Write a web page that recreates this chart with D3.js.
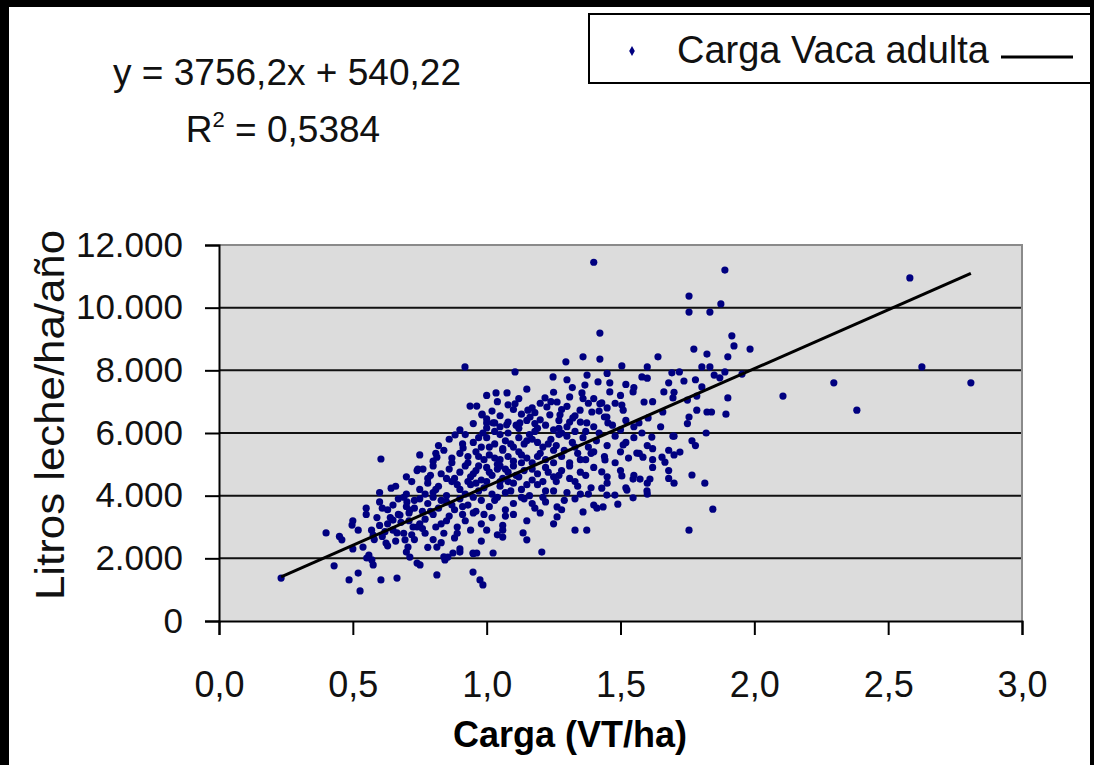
<!DOCTYPE html>
<html>
<head>
<meta charset="utf-8">
<script src="https://cdn.jsdelivr.net/npm/d3@7"></script>
<style>
  body { margin: 0; background: #fff; }
  svg { display: block; font-family: "Liberation Sans", Arial, sans-serif; }
</style>
</head>
<body>
<div id="chart"></div>
<script>
(function () {

  // Data: [carga VT/ha, litros leche/ha/año]
  const puntos = [
    [1.40,11450],[1.423,9190],[1.36,8430],[1.423,8360],[1.296,8270],[0.919,8110],[1.106,7950],[1.375,7850],
    [1.248,7790],[1.416,7630],[1.367,7530],[1.46,7600],[1.46,7310],[1.035,7280],[1.076,7280],[1.356,7280],
    [1.218,7120],[1.31,7150],[1.263,6990],[0.938,6860],[0.963,6860],[1.106,6930],[1.423,6930],[1.154,6730],
    [0.983,6600],[1.225,6830],[1.349,6730],[1.393,6670],[1.2,6420],[1.236,6580],[1.274,6580],[1.322,6480],
    [1.44,6510],[1.0,6320],[1.03,6320],[1.075,6260],[1.124,6320],[1.374,6320],
    [1.89,11200],[1.756,10370],[1.756,9860],[1.834,9860],[1.875,10120],[2.581,10950],[1.916,9100],[1.924,8780],
    [1.984,8680],[1.774,8680],[1.823,8520],[1.901,8430],[1.64,8430],[1.505,8140],[1.6,8110],[1.804,8110],
    [1.834,8110],[1.692,7920],[1.89,7950],[1.954,7880],[1.871,7760],[1.58,7790],[1.737,7660],[2.626,8110],
    [2.297,7600],[2.809,7600],[2.107,7180],[2.383,6730],[1.547,7310],[1.662,7310],[1.804,7470],[1.696,7120],
    [1.785,7180],[1.901,7120],[1.588,6990],[1.505,6890],[1.43,6960],[1.658,6670],[1.785,6730],[1.823,6670],
    [1.84,6670],[1.756,6510],[1.894,6600],[1.449,6510],[1.51,6730],[1.603,6480],[1.569,6320],[1.453,6320],
    [1.767,5750],[1.617,5870],[1.696,5900],[1.51,5620],[1.561,5360],[1.584,5230],[1.655,5230],[1.666,5070],
    [1.722,5390],[1.442,5140],[1.43,4760],[1.505,4630],[1.547,4530],[1.573,4530],[1.61,4530],[1.767,4660],
    [1.815,4400],[1.43,4240],[1.449,4020],[1.479,4020],[1.524,4180],[1.547,3930],[1.599,4150],[1.49,3730],
    [1.845,3570],[1.756,2900],[1.435,3640],
    [0.232,1370],[0.4,2810],[0.43,1760],[0.459,2590],[0.497,3060],[0.486,1310],[0.52,1530],[0.527,960],
    [0.605,5170],[0.643,4240],[0.605,1310],[0.665,1370],[0.538,2360],[0.552,2010],[0.571,1950],[0.576,1790],
    [0.576,2740],[0.624,2490],[0.65,3220],[0.665,2810],[0.676,3380],[0.695,2590],[0.706,2360],[0.713,2040],
    [0.74,1850],[0.702,3800],[0.713,3540],[0.751,1790],[0.725,3000],[0.743,4850],[0.762,4850],[0.814,5230],
    [0.814,1470],[0.814,2360],[0.949,1560],[0.975,1310],[0.986,1150],[1.206,2200],[1.33,2900],[1.374,2900],
    [1.36,3480],[1.412,3600],[1.263,3640],[1.263,3320],[1.136,2810],[1.15,2590],[1.06,2900],[1.06,2680],
    [1.0,2900],[0.882,5940],[0.912,5520],[0.986,6000],[1.0,6160],[1.024,6320],[0.982,6580],[1.162,6510],
    [0.844,1950],[0.855,2040],[0.874,2170],[0.9,2200],[0.949,2170],[0.963,2170],[1.024,2170],
    // dense central mass
    [1.02,6700],[1.08,6900],[1.13,6600],[1.17,6800],[1.28,6750],[1.33,6550],[1.38,6950],[1.45,6800],
    [1.05,6550],[1.2,6950],[1.1,6750],
    [0.9,6100],[0.95,6300],[1.0,6450],[1.05,6200],[1.08,6000],[1.12,6150],[1.15,6400],[1.18,6050],
    [1.22,6250],[1.25,6100],[1.27,6400],[1.3,6200],[1.33,6050],[1.35,6350],[1.4,6200],[1.42,6000],
    [1.47,6250],[1.5,6100],[1.52,6400],[1.55,6200],[1.08,6350],[1.18,6300],[1.28,6000],
    [0.82,5600],[0.86,5800],[0.92,5950],[0.95,5700],[0.98,5550],[1.0,5850],[1.03,5650],[1.05,5950],
    [1.07,5750],[1.1,5550],[1.12,5850],[1.14,5650],[1.16,5950],[1.19,5700],[1.21,5550],[1.24,5800],
    [1.26,5600],[1.3,5900],[1.32,5700],[1.36,5850],[1.38,5550],[1.41,5750],[1.45,5600],[1.48,5900],
    [1.52,5700],[1.55,5850],[1.6,5600],[1.06,5500],[1.17,5800],[1.27,5950],
    [0.75,5300],[0.8,5100],[0.84,5450],[0.87,5200],[0.9,5350],[0.93,5050],[0.96,5400],[0.99,5150],
    [1.01,5300],[1.04,5000],[1.06,5450],[1.08,5250],[1.1,5100],[1.12,5400],[1.15,5200],[1.17,5050],
    [1.2,5350],[1.22,5150],[1.25,5450],[1.28,5250],[1.31,5050],[1.34,5350],[1.37,5150],[1.4,5400],
    [1.44,5250],[1.48,5050],[1.5,5400],[1.53,5200],[1.57,5350],[1.62,5150],[1.68,5450],[1.03,5200],
    [1.13,5300],[0.97,5250],
    [0.7,4600],[0.74,4800],[0.78,4550],[0.8,4950],[0.83,4700],[0.86,4850],[0.88,4550],[0.9,4750],
    [0.92,4950],[0.94,4600],[0.96,4800],[0.98,4500],[1.0,4900],[1.02,4650],[1.04,4850],[1.06,4550],
    [1.08,4750],[1.1,4950],[1.12,4600],[1.14,4800],[1.17,4500],[1.19,4700],[1.22,4900],[1.25,4600],
    [1.28,4800],[1.31,4550],[1.35,4750],[1.4,4900],[1.45,4600],[1.5,4800],[1.55,4650],[1.62,4900],
    [1.68,4550],[1.05,4950],[0.95,4700],
    [0.6,4100],[0.66,4300],[0.7,4050],[0.72,4450],[0.75,4200],[0.78,4400],[0.8,4100],[0.82,4300],
    [0.85,4000],[0.87,4450],[0.9,4200],[0.92,4050],[0.94,4350],[0.97,4150],[1.0,4450],[1.02,4050],
    [1.05,4300],[1.07,4100],[1.1,4400],[1.13,4200],[1.16,4000],[1.19,4350],[1.22,4150],[1.26,4450],
    [1.3,4100],[1.34,4300],[1.38,4050],[1.45,4400],[1.52,4250],[1.6,4050],[1.7,4400],[0.96,4400],
    [1.08,4450],
    [0.55,3600],[0.6,3800],[0.63,3550],[0.67,3900],[0.7,3650],[0.73,3850],[0.76,3500],[0.78,3750],
    [0.8,3950],[0.82,3600],[0.85,3800],[0.88,3550],[0.9,3900],[0.93,3700],[0.96,3500],[0.98,3850],
    [1.01,3650],[1.04,3950],[1.07,3550],[1.1,3750],[1.14,3900],[1.18,3600],[1.22,3800],[1.28,3550],
    [1.33,3900],[1.4,3700],
    [0.5,3200],[0.55,3400],[0.6,3050],[0.64,3300],[0.68,3150],[0.71,3450],[0.74,3000],[0.77,3250],
    [0.8,3400],[0.83,3100],[0.86,3350],[0.89,3000],[0.92,3200],[0.95,3450],[0.98,3100],[1.02,3300],
    [1.06,3050],[1.1,3400],[1.15,3200],[1.2,3450],[1.25,3100],
    [0.45,2700],[0.52,2900],[0.58,2600],[0.62,2850],[0.66,2550],[0.72,2750],[0.76,2950],[0.8,2600],
    [0.84,2800],[0.88,2650],[0.94,2900],[0.98,2550],[1.04,2750],
    [0.5,2300],[0.56,2100],[0.63,2400],[0.7,2200],[0.78,2350],[0.84,2050],[0.9,2300],[0.95,2150],
    [1.0,7200],[1.15,7400],[1.25,7300],[1.32,7450],[1.4,7100],[1.5,7200],[1.55,7450],[1.62,7000],
    [1.7,7300],[1.75,7050],
    [1.3,7700],[1.45,7900],[1.52,7550],[1.6,7750],[1.68,7600],[1.72,7950],[1.78,7700],[1.85,7850],
    [1.58,6000],[1.65,6200],[1.7,5900],[1.75,6300],[1.62,5500],[1.7,5300],[1.78,5600],[1.82,6000],
    [1.6,4400],[1.68,4800],
    [0.77,4050],[0.79,4650],[0.81,5350],[0.83,3850],[0.85,4550],[0.87,5050],[0.89,4350],[0.91,5650],
    [0.91,3650],[0.93,4450],[0.93,5250],[0.95,3950],[0.97,4950],[0.97,5850],[0.99,4250],[0.99,3400],
    [1.01,4750],[1.01,5550],[1.03,3850],[1.03,6050],[1.05,4450],[1.05,5150],[1.07,4850],[1.07,3350],
    [1.09,5650],[1.09,4150],[1.11,4650],[1.11,6250],[1.13,3950],[1.13,5050],[1.15,4350],[1.15,5750],
    [1.17,4850],[1.17,3750],[1.19,5250],[1.19,6150],[1.21,4450],[1.21,3950],[1.23,5650],[1.23,4750],
    [1.25,5050],[1.25,4150],[1.27,6150],[1.27,4650],[1.29,5450],[1.29,3850],[1.31,4950],[1.31,6350],
    [1.33,4450],[1.33,5550],[1.35,5150],[1.35,4050],[1.37,6050],[1.37,4650],[1.39,5350],[1.39,4250],
    [0.57,2900],[0.59,3300],[0.61,2700],[0.61,3600],[0.63,3100],[0.65,2900],[0.65,3700],[0.67,3400],
    [0.69,2800],[0.69,3950],[0.71,3200],[0.73,2600],[0.73,3600],[0.75,3100],[0.75,3900],[0.77,2800],
    [0.79,3500],[0.81,3000],[0.81,4200],[0.83,2500],[0.85,3200],[0.87,3700],[0.89,2800],[0.91,3400],
    [1.04,7000],[1.12,7100],[1.18,6650],[1.24,7000],[1.3,6850],[1.36,7100],[1.42,6700],[1.48,6950]
  ]

  // Linear trend shown in the chart
  const pendiente = 3756.2
  const intercepto = 540.22

  const xTicks = [0, 0.5, 1, 1.5, 2, 2.5, 3]
  const yTicks = [0, 2000, 4000, 6000, 8000, 10000, 12000]
  const gridValues = [2000, 4000, 6000, 8000, 10000]

  const W = 1094, H = 765
  const plot = { left: 219, top: 245, right: 1022, bottom: 621 }

  const es = d3.formatLocale({ decimal: ",", thousands: ".", grouping: [3], currency: ["", ""] })

  const svg = d3.select("#chart").append("svg")
    .attr("width", W)
    .attr("height", H)

  svg.append("rect").attr("width", W).attr("height", H).attr("fill", "#fff")

  // Equation text
  svg.append("text")
    .attr("x", 287).attr("y", 85)
    .attr("text-anchor", "middle")
    .attr("font-size", 37)
    .attr("textLength", 348)
    .attr("lengthAdjust", "spacingAndGlyphs")
    .attr("fill", "#111")
    .text("y = 3756,2x + 540,22")

  const r2 = svg.append("text")
    .attr("x", 283).attr("y", 142)
    .attr("text-anchor", "middle")
    .attr("font-size", 37)
    .attr("fill", "#111")
  r2.append("tspan").text("R")
  r2.append("tspan").attr("font-size", 22).attr("dy", -15).text("2")
  r2.append("tspan").attr("dy", 15).text(" = 0,5384")

  // Legend
  svg.append("rect")
    .attr("x", 589).attr("y", 14)
    .attr("width", 520).attr("height", 69)
    .attr("fill", "#fff")
    .attr("stroke", "#000")
    .attr("stroke-width", 2)
  svg.append("path")
    .attr("d", d3.symbol(d3.symbolDiamond, 28)())
    .attr("transform", "translate(632,51)")
    .attr("fill", "#000080")
  svg.append("text")
    .attr("x", 677).attr("y", 63)
    .attr("font-size", 38)
    .attr("fill", "#111")
    .text("Carga Vaca adulta")
  svg.append("line")
    .attr("x1", 1001).attr("x2", 1073)
    .attr("y1", 57).attr("y2", 57)
    .attr("stroke", "#000")
    .attr("stroke-width", 3)

  // Scales
  const x = d3.scaleLinear().domain([0, 3]).range([plot.left, plot.right])
  const y = d3.scaleLinear().domain([0, 12000]).range([plot.bottom, plot.top])

  // Plot area
  svg.append("rect")
    .attr("x", plot.left).attr("y", plot.top)
    .attr("width", plot.right - plot.left)
    .attr("height", plot.bottom - plot.top)
    .attr("fill", "#dcdcdc")

  svg.append("g")
    .selectAll("line")
    .data(gridValues)
    .join("line")
    .attr("x1", plot.left).attr("x2", plot.right)
    .attr("y1", d => y(d)).attr("y2", d => y(d))
    .attr("stroke", "#111")
    .attr("stroke-width", 2)

  // top / right border of plot area
  svg.append("path")
    .attr("d", `M${plot.left},${plot.top}H${plot.right}V${plot.bottom}`)
    .attr("fill", "none")
    .attr("stroke", "#8a8a8a")
    .attr("stroke-width", 2)

  // Points
  svg.append("g")
    .selectAll("circle")
    .data(puntos)
    .join("circle")
    .attr("cx", d => x(d[0]))
    .attr("cy", d => y(d[1]))
    .attr("r", 3.6)
    .attr("fill", "#000080")

  // Trend line across the data range
  const xs = d3.extent(puntos, d => d[0])
  svg.append("line")
    .attr("x1", x(xs[0])).attr("y1", y(pendiente * xs[0] + intercepto))
    .attr("x2", x(xs[1])).attr("y2", y(pendiente * xs[1] + intercepto))
    .attr("stroke", "#000")
    .attr("stroke-width", 3)

  // Axes
  const yAxis = svg.append("g")
    .attr("transform", `translate(${plot.left},0)`)
    .call(d3.axisLeft(y).tickValues(yTicks).tickSize(14).tickPadding(22).tickFormat(es.format(",d")))
  const xAxis = svg.append("g")
    .attr("transform", `translate(0,${plot.bottom})`)
    .call(d3.axisBottom(x).tickValues(xTicks).tickSize(14).tickFormat(es.format(".1f")))

  ;[yAxis, xAxis].forEach(g => {
    g.select(".domain").attr("stroke", "#000").attr("stroke-width", 2)
    g.selectAll(".tick line").attr("stroke", "#000").attr("stroke-width", 2)
    g.selectAll("text").attr("font-family", null).attr("fill", "#111")
  })
  yAxis.attr("font-size", null).selectAll("text").attr("font-size", 35)
  xAxis.attr("font-size", null).selectAll("text").attr("font-size", 36).attr("dy", null).attr("y", 76)

  // Axis titles
  svg.append("text")
    .attr("x", 570).attr("y", 747)
    .attr("text-anchor", "middle")
    .attr("font-size", 36)
    .attr("font-weight", "bold")
    .attr("fill", "#000")
    .text("Carga (VT/ha)")

  svg.append("text")
    .attr("transform", "translate(64,415) rotate(-90)")
    .attr("text-anchor", "middle")
    .attr("font-size", 40)
    .attr("textLength", 370)
    .attr("lengthAdjust", "spacingAndGlyphs")
    .attr("fill", "#111")
    .text("Litros leche/ha/año")

  // Black frame of the picture (left, top, right)
  svg.append("rect").attr("x", 0).attr("y", 0).attr("width", 9).attr("height", H).attr("fill", "#000")
  svg.append("rect").attr("x", 0).attr("y", 0).attr("width", W).attr("height", 7).attr("fill", "#000")
  svg.append("rect").attr("x", 1090).attr("y", 0).attr("width", 4).attr("height", H).attr("fill", "#000")

})();
</script>
</body>
</html>
